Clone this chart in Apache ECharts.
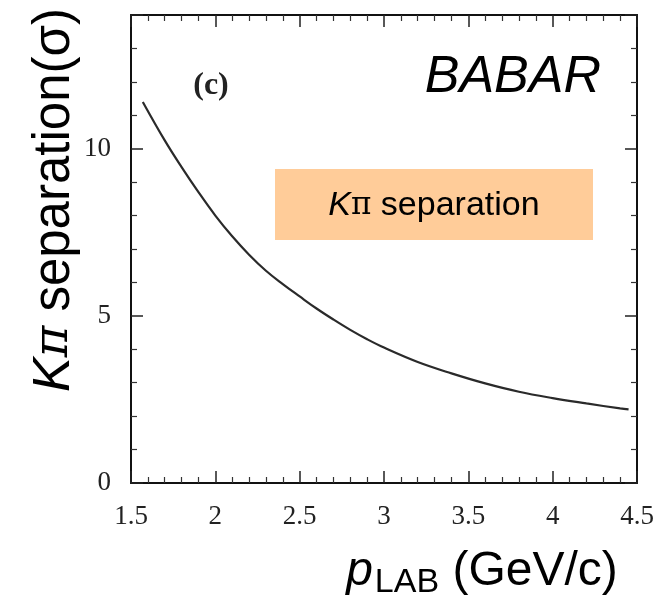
<!DOCTYPE html>
<html>
<head>
<meta charset="utf-8">
<script src="https://cdn.jsdelivr.net/npm/echarts@6/dist/echarts.min.js"></script>
<style>html,body{margin:0;padding:0;background:#fff}#c{width:672px;height:601px}</style>
</head>
<body>
<div id="c"></div>
<script>
// momentum (GeV/c)
var pLab = [1.57, 1.7, 1.8, 1.9, 2.0, 2.1, 2.2, 2.3, 2.4, 2.5, 2.6, 2.7, 2.8, 2.9, 3.0, 3.2, 3.4, 3.6, 3.8, 4.0, 4.2, 4.4, 4.45];
// K-pi separation (sigma)
var sepSigma = [11.4, 10.25, 9.45, 8.7, 8.0, 7.38, 6.83, 6.35, 5.95, 5.58, 5.22, 4.89, 4.58, 4.3, 4.05, 3.62, 3.28, 2.98, 2.73, 2.54, 2.38, 2.23, 2.2];
var xTicks = [1.5, 2, 2.5, 3, 3.5, 4, 4.5];
var yTicks = [0, 5, 10];

var chart = echarts.init(document.getElementById('c'), null, {renderer: 'canvas'});
var serif = '"Liberation Serif", "DejaVu Serif", serif';
var sans = '"Liberation Sans", Arial, sans-serif';
var axisLine = {show: true, onZero: false, lineStyle: {color: '#111', width: 2}};
var tick = {show: true, inside: true, length: 12, lineStyle: {color: '#222', width: 1.5}};
var minor = {show: true, length: 6, splitNumber: 5, lineStyle: {color: '#333', width: 1.2}};
var xLab = {fontFamily: serif, fontSize: 27, color: '#222', margin: 20,
  formatter: function (v) { return xTicks.indexOf(+v) >= 0 ? String(+v) : ''; }};
var yLab = {fontFamily: serif, fontSize: 27, color: '#222', margin: 20, showMaxLabel: false,
  formatter: function (v) { return yTicks.indexOf(+v) >= 0 ? String(+v) : ''; }};

chart.setOption({
  animation: false,
  grid: {left: 131, right: 35, top: 15, bottom: 118},
  xAxis: [
    {type: 'value', min: 1.5, max: 4.5, interval: 0.5, position: 'bottom',
     axisLine: axisLine, axisTick: tick, minorTick: minor, splitLine: {show: false}, axisLabel: xLab},
    {type: 'value', min: 1.5, max: 4.5, interval: 0.5, position: 'top',
     axisLine: axisLine, axisTick: tick, minorTick: minor, splitLine: {show: false}, axisLabel: {show: false}}
  ],
  yAxis: [
    {type: 'value', min: 0, max: 14, interval: 5, position: 'left',
     axisLine: axisLine, axisTick: tick, minorTick: minor, splitLine: {show: false}, axisLabel: yLab},
    {type: 'value', min: 0, max: 14, interval: 5, position: 'right',
     axisLine: axisLine, axisTick: tick, minorTick: minor, splitLine: {show: false}, axisLabel: {show: false}}
  ],
  series: [{
    type: 'line', xAxisIndex: 0, yAxisIndex: 0, smooth: 0.4, showSymbol: false,
    lineStyle: {color: '#2a2a2a', width: 2.2},
    data: pLab.map(function (p, i) { return [p, sepSigma[i]]; })
  }],
  graphic: [
    {type: 'rect', x: 275, y: 169, shape: {width: 318, height: 71}, style: {fill: '#FFCC99'}, z: 10},
    {type: 'text', x: 434, y: 206, z: 11,
     style: {text: '{k|K}{p|π}{s| separation}', align: 'center', verticalAlign: 'middle',
       rich: {k: {fontFamily: sans, fontStyle: 'italic', fontSize: 34, fill: '#000'},
              p: {fontFamily: '"DejaVu Serif", serif', fontSize: 31, fill: '#000'},
              s: {fontFamily: sans, fontSize: 34, fill: '#000'}}}},
    {type: 'text', x: 601, y: 78, z: 11,
     style: {text: 'BABAR', align: 'right', verticalAlign: 'middle', fontFamily: sans, fontStyle: 'italic', fontSize: 52, fill: '#000'}},
    {type: 'text', x: 211, y: 86, z: 11,
     style: {text: '(c)', align: 'center', verticalAlign: 'middle', fontFamily: serif, fontWeight: 'bold', fontSize: 32, fill: '#222'}},
    {type: 'text', x: 55, y: 200, rotation: Math.PI / 2, z: 11,
     style: {text: '{k|K}{p|π}{s| separation(σ)}', align: 'center', verticalAlign: 'middle',
       rich: {k: {fontFamily: sans, fontStyle: 'italic', fontSize: 52, fill: '#000'},
              p: {fontFamily: '"DejaVu Serif", serif', fontStyle: 'italic', fontSize: 48, fill: '#000'},
              s: {fontFamily: sans, fontSize: 51, fill: '#000'}}}},
    {type: 'text', x: 482, y: 572, z: 11,
     style: {text: '{p|p}{sub|LAB}{s| (GeV/c)}', align: 'center', verticalAlign: 'middle',
       rich: {p: {fontFamily: sans, fontStyle: 'italic', fontSize: 48, fill: '#000'},
              sub: {fontFamily: sans, fontSize: 34, fill: '#000', padding: [22, 0, 0, 2]},
              s: {fontFamily: sans, fontSize: 48, fill: '#000'}}}}
  ]
});
</script>
</body>
</html>
